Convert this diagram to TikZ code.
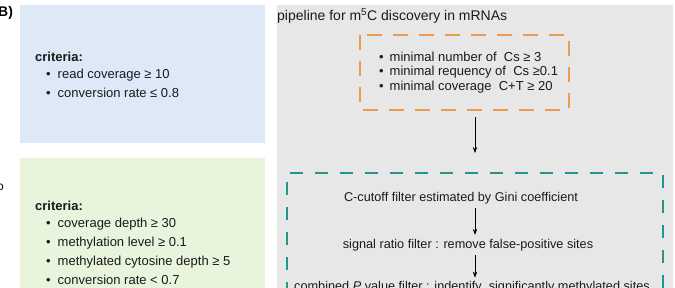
\documentclass[tikz,border=0pt]{standalone}
\usepackage{fontspec}
\setmainfont{Liberation Sans}
\usetikzlibrary{arrows.meta}
\definecolor{bluebg}{HTML}{DDE9F7}
\definecolor{greenbg}{HTML}{E9F4DD}
\definecolor{graybg}{HTML}{E7E7E7}
\definecolor{orangedash}{HTML}{EC9A4E}
\definecolor{tealdash}{HTML}{23968B}
\definecolor{txt}{HTML}{1A1A1A}
\tikzset{
  crit/.style={anchor=west, inner sep=0pt, font=\fontsize{13}{15}\selectfont, text=txt},
  pipe/.style={anchor=center, inner sep=0pt, font=\fontsize{12.7}{14}\selectfont, text=txt},
  flow/.style={-{Stealth[length=6pt,width=4.5pt]}, line width=0.8pt, black},
}
\begin{document}
\begin{tikzpicture}[x=1pt,y=-1pt]
\useasboundingbox (0,0) rectangle (675,287);
\clip (0,0) rectangle (675,287);
\fill[white] (0,0) rectangle (675,287);
% panels
\fill[bluebg] (20,5) rectangle (265,143);
\fill[greenbg] (20,158) rectangle (265,300);
\fill[graybg] (277,5) rectangle (673,300);
% labels
\node[anchor=west, inner sep=0pt, font=\fontsize{14}{16}\selectfont\bfseries] (lab) at (-2,13) {B)};
\node[anchor=west, inner sep=0pt, font=\fontsize{12}{14}\selectfont] (cut) at (-3,187) {o};
% blue criteria
\node[crit, font=\fontsize{13}{15}\selectfont\bfseries] (bc) at (35,57) {criteria:};
\node[crit] (b1) at (46,75) {•\hspace{7pt}read coverage ≥ 10};
\node[crit] (b2) at (46,93) {•\hspace{7pt}conversion rate ≤ 0.8};
% green criteria
\node[crit, font=\fontsize{13}{15}\selectfont\bfseries] (gc) at (35,206) {criteria:};
\node[crit] (g1) at (46,224) {•\hspace{7pt}coverage depth ≥ 30};
\node[crit] (g2) at (46,243) {•\hspace{7pt}methylation level ≥ 0.1};
\node[crit] (g3) at (46,262) {•\hspace{7pt}methylated cytosine depth ≥ 5};
\node[crit] (g4) at (46,280) {•\hspace{7pt}conversion rate < 0.7};
% pipeline title
\node[anchor=west, inner sep=0pt, font=\fontsize{14}{16}\selectfont, text=txt] (title) at (277,16) {pipeline for m\textsuperscript{5}C discovery in mRNAs};
% orange box
\draw[orangedash, line width=2.6pt, dash pattern=on 15pt off 11pt] (360,35) rectangle (569,110);
\node[crit] (o1) at (379,57) {•\hspace{6pt}minimal number of\ \ Cs ≥ 3};
\node[crit] (o2) at (379,72) {•\hspace{6pt}minimal requency of\ \ Cs ≥0.1};
\node[crit] (o3) at (379,87) {•\hspace{6pt}minimal coverage\ \ C+T ≥ 20};
% teal box
\draw[tealdash, line width=2.6pt, dash pattern=on 13pt off 12pt] (287,320) -- (287,173) -- (663,173) -- (663,320);
\coordinate (ostart) at (475,117);
\coordinate (tealtop) at (475,153);
\draw[flow] (ostart) -- (tealtop);
% pipeline steps
\node[pipe] (s1) at (461,198) {C-cutoff filter estimated by Gini coefficient};
\node[pipe] (s2) at (468,245) {signal ratio filter : remove false-positive sites};
\node[pipe, anchor=base] (s3) at (472,290) {combined \textit{P} value filter : indentify\ \ significantly methylated sites};
\coordinate (ax) at (475,0);
\draw[flow, shorten <=4pt, shorten >=4pt] (s1.south -| ax) -- (s2.north -| ax);
\draw[flow, shorten <=4pt, shorten >=3pt] (s2.south -| ax) -- (s3.north -| ax);
\end{tikzpicture}
\end{document}
